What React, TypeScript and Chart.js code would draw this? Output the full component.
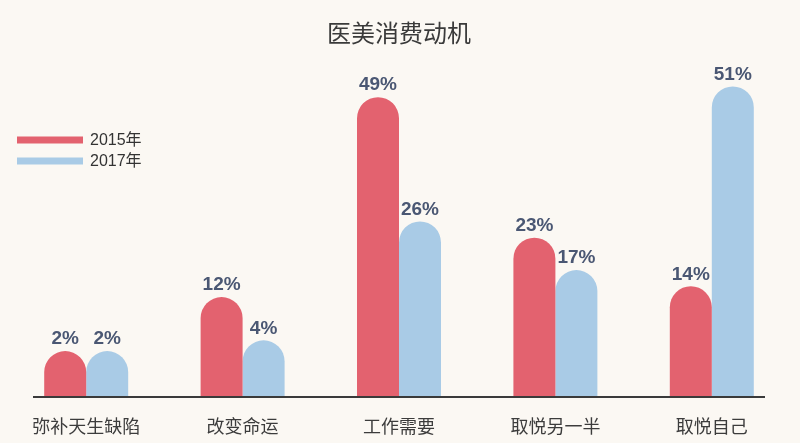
import React, { useEffect, useRef } from "react";
import { Chart, registerables } from "chart.js";

Chart.register(...registerables);

const chartTitle = "医美消费动机";
const categories = ["弥补天生缺陷", "改变命运", "工作需要", "取悦另一半", "取悦自己"];
const seriesNames = ["2015年", "2017年"];
const values2015 = [2, 12, 49, 23, 14];
const values2017 = [2, 4, 26, 17, 51];

const RED = "#e3626f";
const BLUE = "#a9cbe6";
const BG = "#fbf8f3";
const LABEL_COLOR = "#4a5773";
const BAR_BASE = -6.5;
const LATIN_CJK = "'Liberation Sans', 'Noto Sans CJK SC', sans-serif";

const backgroundPlugin = {
  id: "bgFill",
  beforeDraw(chart: any) {
    const { ctx, width, height } = chart;
    ctx.save();
    ctx.fillStyle = BG;
    ctx.fillRect(0, 0, width, height);
    ctx.restore();
  },
};

const axisLinePlugin = {
  id: "axisLine",
  afterDatasetsDraw(chart: any) {
    const { ctx } = chart;
    const y = chart.scales.y.getPixelForValue(BAR_BASE);
    ctx.save();
    ctx.strokeStyle = "#3a3a3a";
    ctx.lineWidth = 2;
    ctx.beginPath();
    ctx.moveTo(33, y);
    ctx.lineTo(765, y);
    ctx.stroke();
    ctx.restore();
  },
};

const valueLabelPlugin = {
  id: "valueLabels",
  afterDatasetsDraw(chart: any) {
    const { ctx } = chart;
    ctx.save();
    ctx.font = "bold 19px " + LATIN_CJK;
    ctx.fillStyle = LABEL_COLOR;
    ctx.textAlign = "center";
    ctx.textBaseline = "middle";
    chart.data.datasets.forEach((ds: any, di: number) => {
      const meta = chart.getDatasetMeta(di);
      meta.data.forEach((el: any, i: number) => {
        ctx.fillText(ds.data[i] + "%", el.x, el.y - 12);
      });
    });
    ctx.restore();
  },
};

const customLegendPlugin = {
  id: "customLegend",
  afterDraw(chart: any) {
    const { ctx } = chart;
    ctx.save();
    chart.data.datasets.forEach((ds: any, di: number) => {
      const y = 140 + di * 21;
      ctx.strokeStyle = ds.backgroundColor;
      ctx.lineWidth = 7;
      ctx.beginPath();
      ctx.moveTo(17, y);
      ctx.lineTo(83, y);
      ctx.stroke();
      ctx.fillStyle = "#333333";
      ctx.font = "16px " + LATIN_CJK;
      ctx.textAlign = "left";
      ctx.textBaseline = "middle";
      ctx.fillText(ds.label, 90, y + 1);
    });
    ctx.restore();
  },
};

export default function App() {
  const canvasRef = useRef<HTMLCanvasElement | null>(null);

  useEffect(() => {
    if (!canvasRef.current) return;
    const chart = new Chart(canvasRef.current, {
      type: "bar",
      data: {
        labels: categories,
        datasets: [
          {
            label: seriesNames[0],
            data: values2015,
            backgroundColor: RED,
          },
          {
            label: seriesNames[1],
            data: values2017,
            backgroundColor: BLUE,
          },
        ],
      },
      options: {
        responsive: false,
        animation: false,
        layout: { padding: { left: 8, right: 10, top: 0, bottom: 0 } },
        datasets: {
          bar: {
            base: BAR_BASE,
            categoryPercentage: 0.537,
            barPercentage: 1,
            borderRadius: { topLeft: 21, topRight: 21, bottomLeft: 0, bottomRight: 0 },
            borderSkipped: "bottom",
          },
        } as any,
        scales: {
          x: {
            grid: { display: false, drawTicks: false },
            border: { display: false },
            afterFit: (scale: any) => {
              scale.height = 46;
            },
            ticks: {
              padding: 18,
              color: "#3c3c3c",
              font: { family: "'Noto Sans CJK SC', sans-serif", size: 18 },
            },
          },
          y: {
            display: false,
            min: BAR_BASE,
            max: 55,
          },
        },
        plugins: {
          legend: { display: false },
          tooltip: { enabled: false },
          title: {
            display: true,
            text: chartTitle,
            color: "#3a3a3a",
            font: { family: "'Noto Sans CJK SC', sans-serif", size: 24, weight: "normal" },
            padding: { top: 18, bottom: 18 },
          },
        },
      },
      plugins: [backgroundPlugin, axisLinePlugin, valueLabelPlugin, customLegendPlugin],
    });
    return () => chart.destroy();
  }, []);

  return (
    <div style={{ position: "absolute", left: 0, top: 0, width: 800, height: 443, background: BG }}>
      <canvas ref={canvasRef} width={800} height={443} style={{ display: "block" }} />
    </div>
  );
}
